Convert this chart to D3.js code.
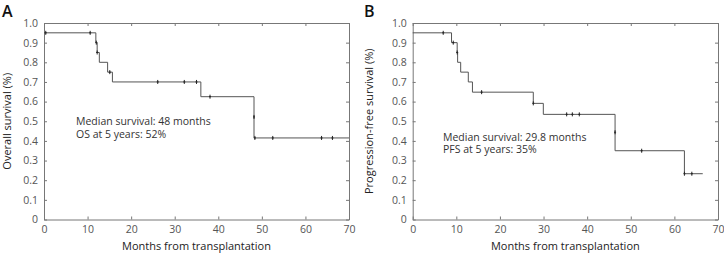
<!DOCTYPE html>
<html>
<head>
<meta charset="utf-8">
<script src="https://cdn.jsdelivr.net/npm/d3@7"></script>
<style>
  body { margin: 0; background: #fff; }
  svg text { font-family: "Open Sans", sans-serif; }
</style>
</head>
<body>
<div id="viz"></div>
<script>
// Données
const xTicks = [0, 10, 20, 30, 40, 50, 60, 70]
const yTicks = [0, 0.1, 0.2, 0.3, 0.4, 0.5, 0.6, 0.7, 0.8, 0.9, 1.0]

// Survie globale (A) : [mois, survie]
const osSteps = [[0, 0.95], [11.9, 0.9], [12.2, 0.85], [12.7, 0.8], [14.6, 0.75], [15.7, 0.7],
  [36.0, 0.625], [48.2, 0.522], [48.2, 0.415], [70, 0.415]]
const osCensored = [[0.4, 0.95], [10.6, 0.95], [12.0, 0.9], [12.2, 0.85], [15.1, 0.75], [26.1, 0.7],
  [32.2, 0.7], [35.0, 0.7], [38.1, 0.625], [48.2, 0.522], [48.4, 0.415], [52.5, 0.415],
  [63.7, 0.415], [66.2, 0.415]]

// Survie sans progression (B)
const pfsSteps = [[0, 0.95], [8.9, 0.9], [10.2, 0.85], [10.3, 0.8], [11.0, 0.75], [12.75, 0.7],
  [13.7, 0.648], [27.65, 0.591], [29.95, 0.535], [46.4, 0.444], [46.4, 0.35], [62.3, 0.233], [66.5, 0.233]]
const pfsCensored = [[7.0, 0.95], [9.3, 0.9], [10.2, 0.85], [15.8, 0.648], [27.65, 0.591],
  [35.3, 0.535], [36.6, 0.535], [38.2, 0.535], [46.4, 0.444], [52.5, 0.35], [62.3, 0.233], [64.0, 0.233]]

const panels = [
  {letter: "A", left: 44, right: 349, ylabel: "Overall survival (%)", titleX: 11,
   steps: osSteps, censored: osCensored,
   notes: ["Median survival: 48 months", "OS at 5 years: 52%"], noteX: 76, noteY: 125},
  {letter: "B", left: 412.7, right: 718, ylabel: "Progression-free survival (%)", titleX: 373,
   steps: pfsSteps, censored: pfsCensored,
   notes: ["Median survival: 29.8 months", "PFS at 5 years: 35%"], noteX: 443, noteY: 140.5}
]

const plotTop = 23, plotBottom = 219.5

const svg = d3.select('#viz')
  .append('svg')
  .attr('width', 724)
  .attr('height', 253)

const fmt = d => d === 0 ? "0" : d3.format(".1f")(d)

panels.forEach(p => {
  const x = d3.scaleLinear().domain([0, 70]).range([p.left, p.right])
  const y = d3.scaleLinear().domain([0, 1]).range([plotBottom, plotTop])

  const g = svg.append('g')

  // axes, ticks vers l'intérieur
  const axB = g.append('g')
    .attr('transform', `translate(0,${plotBottom})`)
    .call(d3.axisBottom(x).tickValues(xTicks).tickSizeInner(-3).tickSizeOuter(0).tickPadding(6))
  const axT = g.append('g')
    .attr('transform', `translate(0,${plotTop})`)
    .call(d3.axisTop(x).tickValues(xTicks).tickSizeInner(-3).tickSizeOuter(0).tickFormat(''))
  const axL = g.append('g')
    .attr('transform', `translate(${p.left},0)`)
    .call(d3.axisLeft(y).tickValues(yTicks).tickSizeInner(-3).tickSizeOuter(0).tickPadding(6).tickFormat(fmt))
  const axR = g.append('g')
    .attr('transform', `translate(${p.right},0)`)
    .call(d3.axisRight(y).tickValues(yTicks).tickSizeInner(-3).tickSizeOuter(0).tickFormat(''))

  ;[axB, axT, axL, axR].forEach(a => {
    a.select('.domain').attr('stroke', '#777')
    a.selectAll('.tick line').attr('stroke', '#777')
    a.selectAll('.tick text').attr('fill', '#555').style('font-size', '10.5px')
  })

  // courbe de Kaplan-Meier
  g.append('path')
    .datum(p.steps)
    .attr('fill', 'none')
    .attr('stroke', '#555')
    .attr('stroke-width', 1)
    .attr('d', d3.line().x(d => x(d[0])).y(d => y(d[1])).curve(d3.curveStepAfter))

  // censures
  g.selectAll('.cens')
    .data(p.censored)
    .join('path')
    .attr('class', 'cens')
    .attr('stroke', '#222')
    .attr('stroke-width', 1)
    .attr('d', d => `M${x(d[0])},${y(d[1]) - 2}v4M${x(d[0]) - 1},${y(d[1])}h2`)

  // textes
  g.selectAll('.note')
    .data(p.notes)
    .join('text')
    .attr('class', 'note')
    .attr('x', p.noteX)
    .attr('y', (d, i) => p.noteY + i * 12.5)
    .attr('fill', '#333')
    .style('font-size', '10.5px')
    .text(d => d)

  g.append('text')
    .attr('x', (p.left + p.right) / 2)
    .attr('y', 250)
    .attr('text-anchor', 'middle')
    .attr('fill', '#222')
    .style('font-size', '11px')
    .text('Months from transplantation')

  g.append('text')
    .attr('transform', `translate(${p.titleX},${(plotTop + plotBottom) / 2}) rotate(-90)`)
    .attr('text-anchor', 'middle')
    .attr('fill', '#222')
    .style('font-size', '11px')
    .text(p.ylabel)

  g.append('text')
    .attr('x', p.letter === 'A' ? 2 : 364)
    .attr('y', 17)
    .attr('fill', '#111')
    .style('font-size', '16px')
    .style('font-weight', '600')
    .text(p.letter)
})
</script>
</body>
</html>
